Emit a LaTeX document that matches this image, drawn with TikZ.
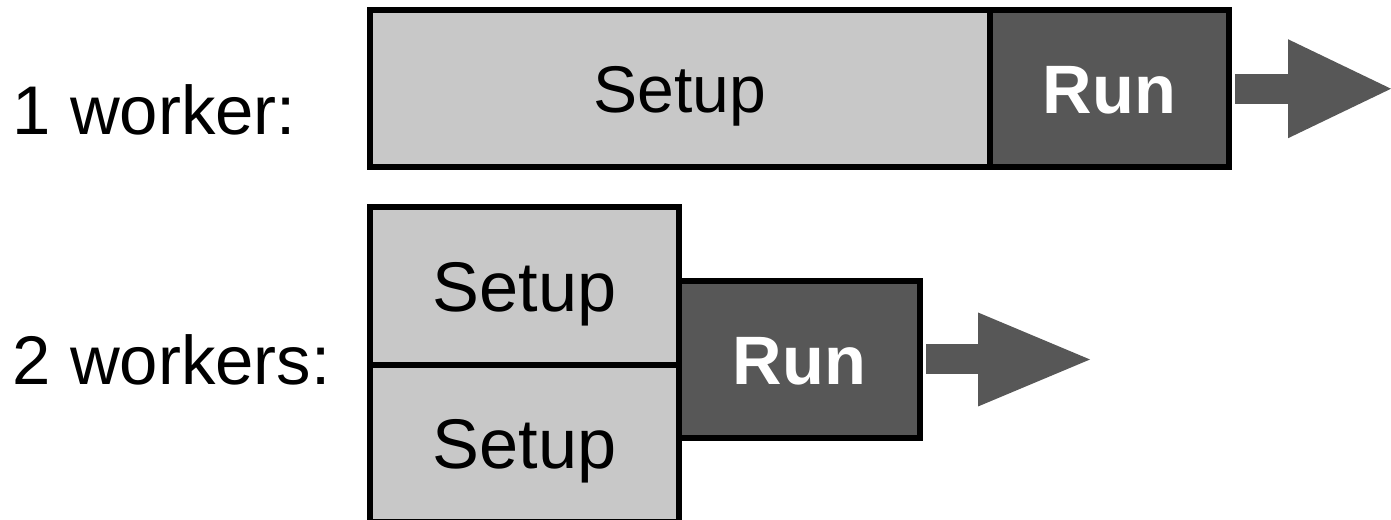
\documentclass[tikz,border=0pt]{standalone}
\usepackage{fontspec}
\setmainfont{Liberation Sans}
\usepackage{tikz}
\usetikzlibrary{arrows.meta}
\definecolor{setupgray}{HTML}{C8C8C8}
\definecolor{rungray}{HTML}{575757}
\tikzset{>=Latex}

\begin{document}
\begin{tikzpicture}[align=center]
\tikzstyle{phase} = [rectangle,draw=black,line width=0.06cm,inner sep=0pt,text depth=0pt]
\tikzstyle{setupbox} = [phase,fill=setupgray,text=black,text height=13.5pt,font=\fontsize{18.8}{20}\selectfont]
\tikzstyle{halfbox} = [setupbox,text height=14.3pt,font=\fontsize{20}{22}\selectfont]
\tikzstyle{runbox} = [phase,fill=rungray,text=white,text height=14pt,font=\fontsize{19.5}{22}\selectfont\bfseries]
\tikzstyle{lbl} = [anchor=base west,inner sep=0pt,font=\fontsize{19.6}{24}\selectfont]
\tikzstyle{flow} = [draw=rungray,line width=0.30cm,shorten <=0.03cm]
\useasboundingbox (0,0) rectangle (13.91,5.20);
% one worker
\node[lbl] (one) at (0.12,3.85) {1 worker:};
\node[setupbox,minimum width=6.20cm,minimum height=1.565cm] (setup) at (6.80,4.3125) {Setup};
\node[runbox,minimum width=2.39cm,minimum height=1.565cm] (run) at (11.095,4.3125) {Run};
\coordinate (tip) at (13.91,4.3125);
% two workers
\node[lbl] (two) at (0.12,1.35) {2 workers:};
\node[halfbox,minimum width=3.09cm,minimum height=1.58cm] (setupa) at (5.245,2.34) {Setup};
\node[halfbox,minimum width=3.09cm,minimum height=1.57cm] (setupb) at (5.245,0.765) {Setup};
\node[runbox,minimum width=2.41cm,minimum height=1.57cm] (runb) at (7.995,1.605) {Run};
\coordinate (tipb) at (10.90,1.605);
\draw[flow,-{Triangle[length=1.03cm,width=0.99cm,line width=0pt]}] (run.east) -- (tip);
\draw[flow,-{Triangle[length=1.12cm,width=0.94cm,line width=0pt]}] (runb.east) -- (tipb);
\end{tikzpicture}
\end{document}
